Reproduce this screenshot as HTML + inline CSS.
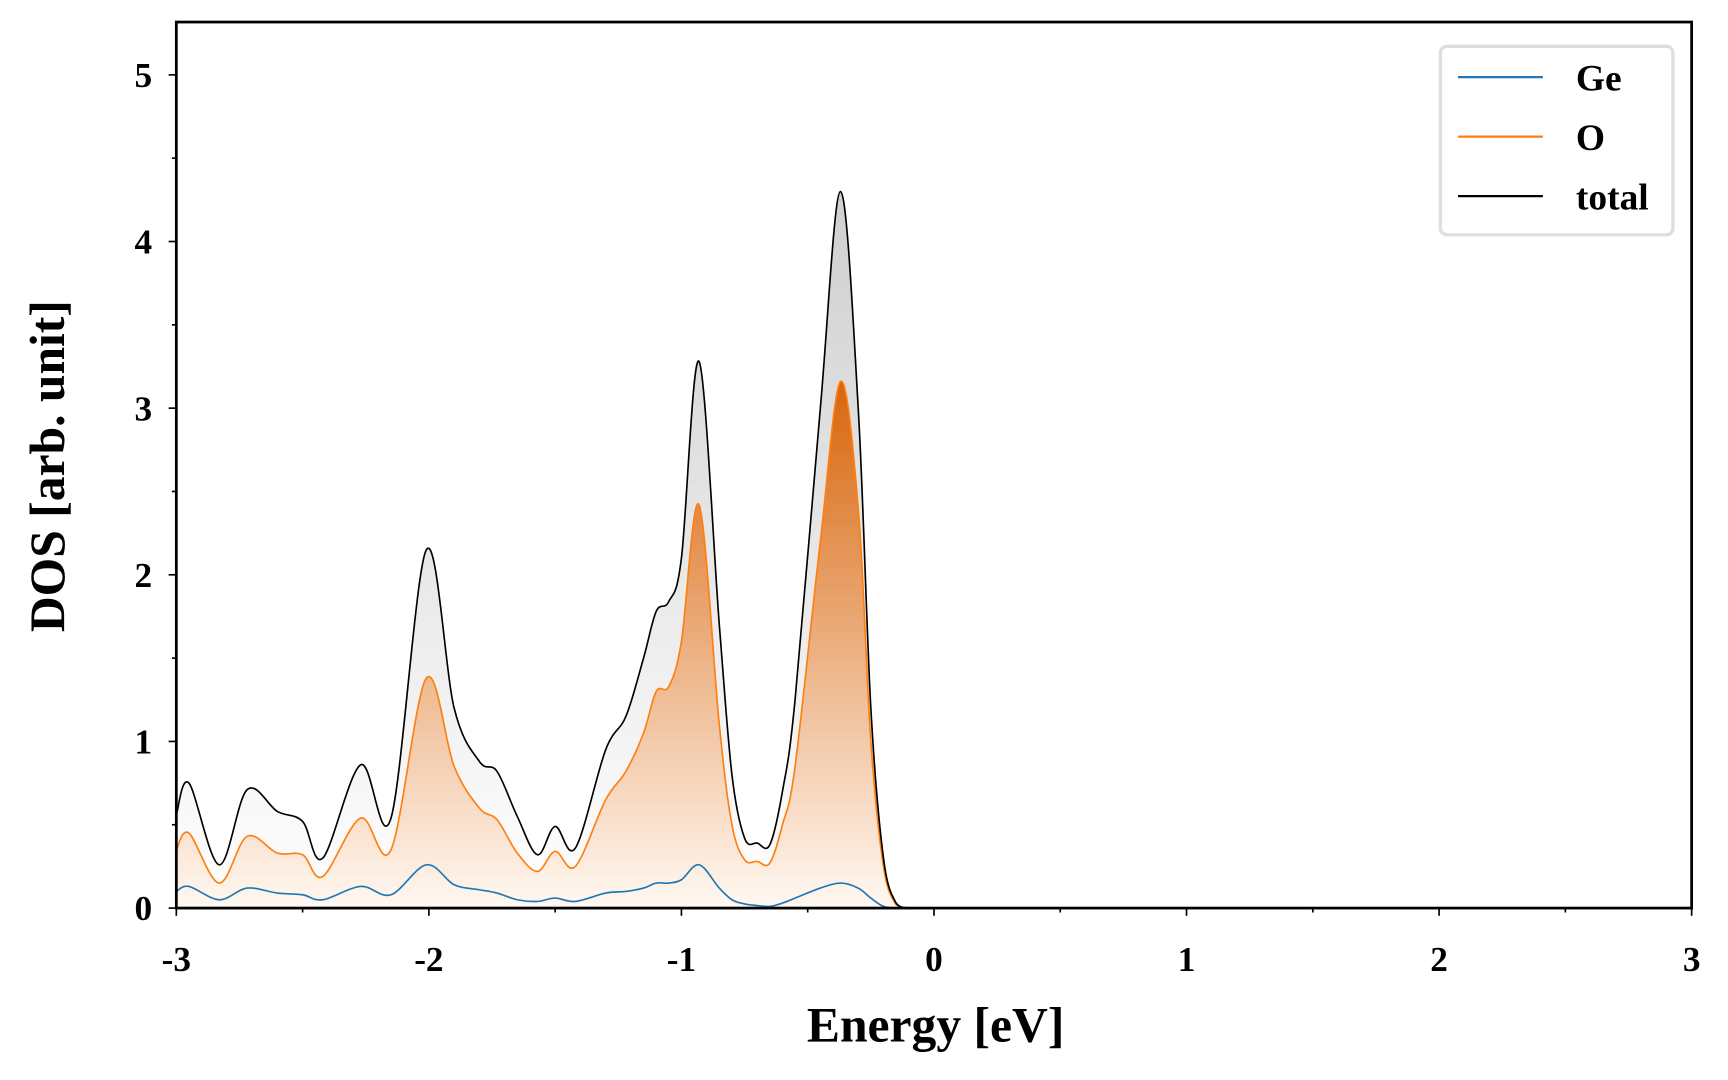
<!DOCTYPE html>
<html><head><meta charset="utf-8"><style>
html,body{margin:0;padding:0;background:#fff;}
svg{display:block;}
text{font-family:"Liberation Serif",serif;font-weight:bold;fill:#000;}
</style></head><body>
<svg id="chart" width="1728" height="1080" viewBox="0 0 1568 980" xmlns="http://www.w3.org/2000/svg">
<defs>
<linearGradient id="gTot" x1="0" y1="0" x2="0" y2="1"><stop offset="0" stop-color="#cfcfcf"/><stop offset="1" stop-color="#ffffff"/></linearGradient>
<linearGradient id="gO" x1="0" y1="0" x2="0" y2="1"><stop offset="0" stop-color="#d8650c"/><stop offset="1" stop-color="#fff8f2"/></linearGradient>
<clipPath id="clip"><rect x="160" y="20" width="1375" height="804"/></clipPath>
</defs>
<g id="plot" clip-path="url(#clip)"></g>
<g id="axes"></g>
<g>
<rect x="1307" y="42" width="211" height="171" rx="6" fill="#fff" stroke="#dedede" stroke-width="3"/>
<line x1="1323" y1="70" x2="1400" y2="70" stroke="#1f77b4" stroke-width="2"/>
<text x="1430" y="82" font-size="34">Ge</text>
<line x1="1323" y1="124" x2="1400" y2="124" stroke="#ff7f0e" stroke-width="2"/>
<text x="1430" y="136" font-size="34">O</text>
<line x1="1323" y1="178" x2="1400" y2="178" stroke="#000" stroke-width="2"/>
<text x="1430" y="190" font-size="34">total</text>
</g>
<text x="849" y="945" font-size="45" text-anchor="middle">Energy [eV]</text>
<text transform="translate(58,423) rotate(-90)" font-size="45" text-anchor="middle">DOS [arb. unit]</text>
</svg>
<script>
const energy = [-3,-2.95,-2.83,-2.72,-2.6,-2.5,-2.42,-2.27,-2.15,-2.01,-1.9,-1.8,-1.73,-1.65,-1.57,-1.5,-1.42,-1.3,-1.22,-1.15,-1.1,-1.05,-1.0,-0.93,-0.85,-0.8,-0.75,-0.7,-0.65,-0.6,-0.55,-0.45,-0.37,-0.3,-0.25,-0.2,-0.15,-0.1,0,1,2,3];
const totalDos = [0.56,0.75,0.26,0.71,0.58,0.52,0.30,0.86,0.54,2.15,1.2,0.88,0.82,0.55,0.32,0.49,0.36,0.95,1.15,1.5,1.78,1.84,2.1,3.28,1.7,0.8,0.42,0.39,0.38,0.7,1.25,3.0,4.30,3.0,1.2,0.3,0.03,0,0,0,0,0];
const oDos = [0.35,0.45,0.15,0.43,0.33,0.32,0.19,0.54,0.35,1.38,0.85,0.6,0.53,0.33,0.22,0.34,0.25,0.65,0.82,1.05,1.3,1.33,1.6,2.42,1.1,0.5,0.29,0.28,0.27,0.5,0.85,2.2,3.16,2.4,1.0,0.25,0.02,0,0,0,0,0];
const geDos = [0.1,0.13,0.05,0.12,0.09,0.08,0.05,0.13,0.08,0.26,0.14,0.11,0.09,0.05,0.04,0.06,0.04,0.09,0.1,0.12,0.15,0.15,0.17,0.26,0.12,0.05,0.025,0.015,0.01,0.03,0.06,0.12,0.15,0.12,0.06,0.01,0,0,0,0,0,0];
const xTicks = [-3,-2,-1,0,1,2,3];
const yTicks = [0,1,2,3,4,5];

const NS = "http://www.w3.org/2000/svg";
const X0=160, X1=1535, Y0=824, YT=20, XMIN=-3, XMAX=3, YMAX=5.317;
const sx = v => X0 + (v - XMIN) / (XMAX - XMIN) * (X1 - X0);
const sy = v => Y0 - v / YMAX * (Y0 - YT);
function mk(tag, attrs, parent){const e=document.createElementNS(NS,tag);for(const k in attrs)e.setAttribute(k,attrs[k]);parent.appendChild(e);return e;}
function curve(ys){
  const p = energy.map((e,i)=>[sx(e), sy(Math.max(0,ys[i]))]);
  let d = `M${p[0][0]},${p[0][1]}`;
  for(let i=0;i<p.length-1;i++){
    const a=p[Math.max(0,i-1)], b=p[i], c=p[i+1], n=p[Math.min(p.length-1,i+2)];
    let c1=[b[0]+(c[0]-a[0])/6, b[1]+(c[1]-a[1])/6];
    let c2=[c[0]-(n[0]-b[0])/6, c[1]-(n[1]-b[1])/6];
    c1[1]=Math.min(c1[1],Y0); c2[1]=Math.min(c2[1],Y0);
    d += ` C${c1[0]},${c1[1]} ${c2[0]},${c2[1]} ${c[0]},${c[1]}`;
  }
  return d;
}
const plot = document.getElementById('plot');
const tot = curve(totalDos), od = curve(oDos), gd = curve(geDos);
const close = ` L${sx(XMAX)},${Y0} L${sx(XMIN)},${Y0} Z`;
const ft = mk('path',{d:tot+close,fill:'url(#gTot)'},plot);


const fo = mk('path',{d:od+close,fill:'url(#gO)'},plot);


const lg = mk('path',{d:gd,fill:'none',stroke:'#1f77b4','stroke-width':1.5},plot);


const lo = mk('path',{d:od,fill:'none',stroke:'#ff7f0e','stroke-width':1.5},plot);


const lt = mk('path',{d:tot,fill:'none',stroke:'#000','stroke-width':1.5},plot);



const axes = document.getElementById('axes');
const frame = mk('rect',{x:X0,y:YT,width:X1-X0,height:Y0-YT,fill:'none',stroke:'#000','stroke-width':2.5},axes);


for(let v=-3; v<=3.001; v+=0.5){
  const major = Math.abs(v-Math.round(v))<1e-6;
  mk('line',{x1:sx(v),x2:sx(v),y1:Y0,y2:Y0+(major?7:4),stroke:'#000','stroke-width':1.5},axes);
}
xTicks.forEach(v=>{
  const t = mk('text',{x:sx(v),y:Y0+57,'font-size':32,'text-anchor':'middle'},axes);
  t.textContent = String(v);
  
  
});
for(let v=0; v<=5.001; v+=0.5){
  const major = Math.abs(v-Math.round(v))<1e-6;
  mk('line',{x1:X0,x2:X0-(major?7:4),y1:sy(v),y2:sy(v),stroke:'#000','stroke-width':1.5},axes);
}
yTicks.forEach(v=>{
  const t = mk('text',{x:X0-22,y:sy(v)+11,'font-size':32,'text-anchor':'end'},axes);
  t.textContent = String(v);
  
  
});
</script>
</body></html>
